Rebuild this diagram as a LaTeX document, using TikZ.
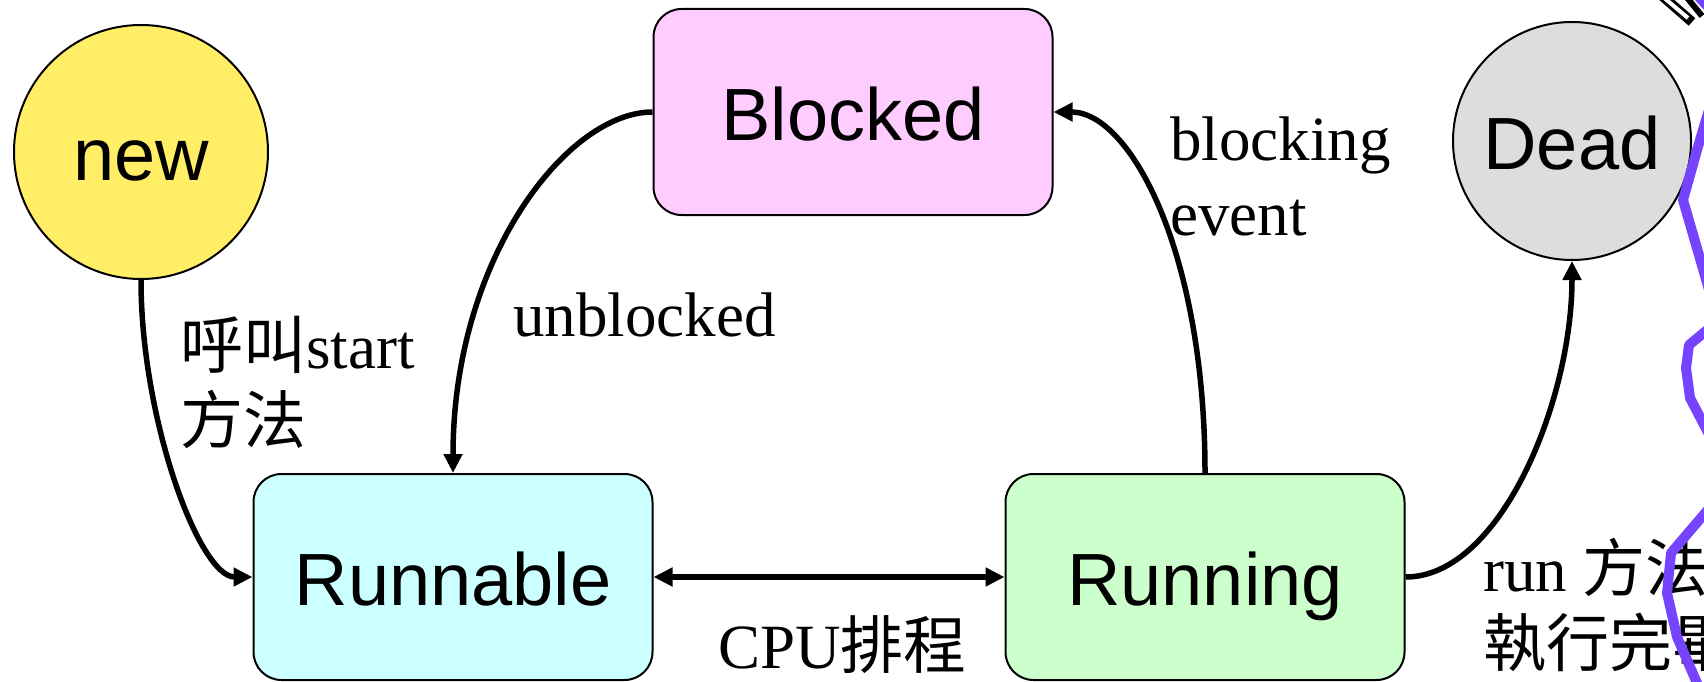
\documentclass[tikz,border=0pt]{standalone}
\usepackage{fontspec}
\setmainfont{Liberation Serif}
\setsansfont{Liberation Sans}
\newfontfamily\cjk{Noto Sans CJK TC}
\usetikzlibrary{arrows.meta}

\definecolor{newfill}{RGB}{255,238,102}
\definecolor{blkfill}{RGB}{255,204,255}
\definecolor{rblfill}{RGB}{204,255,255}
\definecolor{rngfill}{RGB}{204,255,204}
\definecolor{deadfill}{RGB}{221,221,221}
\definecolor{inkpurple}{RGB}{118,68,255}

\begin{document}
\begin{tikzpicture}[x=1pt,y=-1pt,
  state/.style={draw=black, line width=2pt, inner sep=0pt,
    font=\sffamily\fontsize{74}{89}\selectfont,
    text height=70pt, text depth=13pt},
  circstate/.style={state, circle, minimum size=#1},
  boxstate/.style={state, rounded corners=28pt,
    minimum width=399pt, minimum height=206pt},
  tip/.tip={Triangle[length=19pt,width=18pt]},
  conn/.style={line width=5.5pt, -tip},
  biconn/.style={line width=5.5pt, tip-tip},
  lbl/.style={font=\fontsize{63}{75}\selectfont, inner sep=0pt,
    anchor=base west, align=left},
  inkline/.style={draw=inkpurple, line width=10pt, line join=round}]

\path[use as bounding box, clip] (0,0) rectangle (1704,682);

% states
\node[circstate=254pt, fill=newfill] (new) at (141,152) {new};
\node[boxstate, fill=blkfill] (blk) at (853,112) {Blocked};
\node[circstate=238pt, fill=deadfill] (dead) at (1572,141) {Dead};
\node[boxstate, fill=rblfill] (rbl) at (453,577) {Runnable};
\node[boxstate, fill=rngfill] (rng) at (1205,577) {Running};

% transitions
\draw[conn] (new.south) .. controls +(0,140) and +(-53,0) .. (rbl.west);
\draw[conn] (blk.west) .. controls +(-85,0) and +(0,-215) .. (rbl.north);
\draw[conn] (rng.north) .. controls +(0,-223) and +(76,0) .. (blk.east);
\draw[biconn] (rbl.east) -- (rng.west);
\draw[conn] (rng.east) .. controls +(95,0) and +(0,140) .. (dead.south);

% transition labels (base = baseline of the last line)
\node[lbl] (lstart) at (180,443) {{\cjk 呼叫}start\\{\cjk 方法}};
\node[lbl] (lunb) at (513,336) {unblocked};
\node[lbl] (lblk) at (1170,235) {blocking\\event};
\node[lbl] (lcpu) at (718,668) {CPU{\cjk 排程}};
\node[lbl] (lrun) at (1483,666) {run {\cjk 方法}\\{\cjk 執行完畢}};

% pen strokes along the right edge
\draw[inkline] (1712,100) -- (1697,150) -- (1683,200) -- (1712,300);
\draw[inkline] (1712,326) -- (1689,345) -- (1686,368) -- (1690,398) -- (1712,440);
\draw[inkline] (1712,505) -- (1671,553) -- (1667,593) -- (1677,637) -- (1700,690);
\draw[line width=10pt] (1660,-6) -- (1692,22);
\draw[line width=4pt, white] (1656,-9) -- (1688,18);
\draw[line width=6pt] (1684,-6) -- (1702,16);
\fill[inkpurple] (1693,-2) -- (1706,-2) -- (1706,12) -- cycle;
\end{tikzpicture}
\end{document}
